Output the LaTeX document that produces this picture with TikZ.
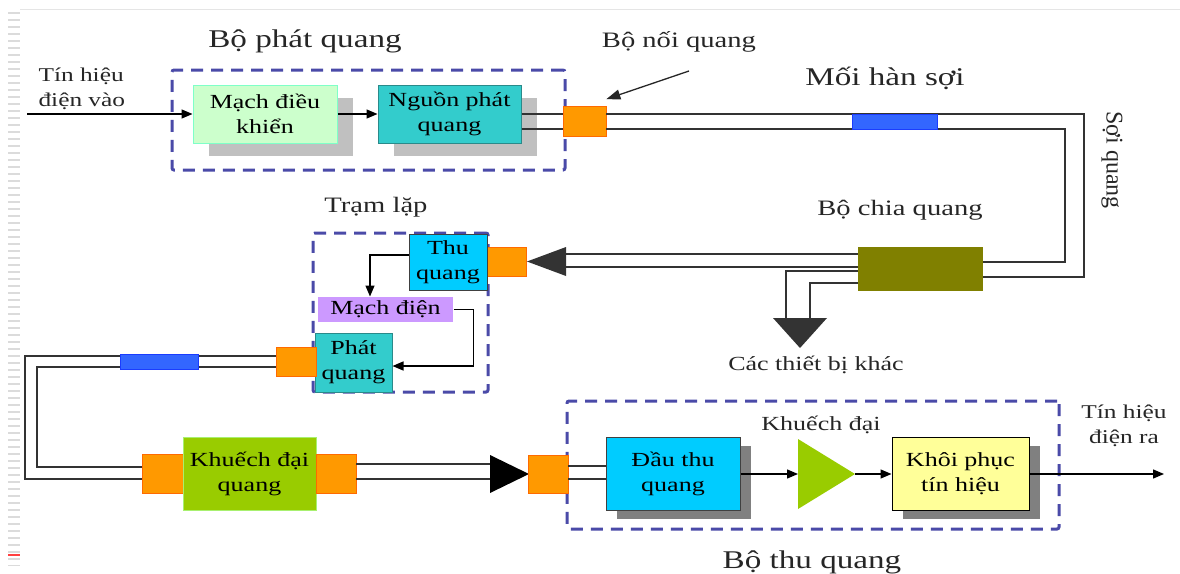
\documentclass[tikz,border=0pt]{standalone}
\usepackage{fontspec}
\setmainfont[FakeStretch=1.3]{Liberation Serif}
\newfontfamily\uprightserif{Liberation Serif}
\usetikzlibrary{arrows.meta,shadows}

\definecolor{dashblue}{HTML}{4A4AA8}
\definecolor{mint}{HTML}{CCFFCC}
\definecolor{mintedge}{HTML}{7FFFC8}
\definecolor{tealfill}{HTML}{33CCCC}
\definecolor{tealedge}{HTML}{2A8A8A}
\definecolor{skyfill}{HTML}{00CCFF}
\definecolor{orangefill}{HTML}{FF9900}
\definecolor{orangeedge}{HTML}{FF6A00}
\definecolor{splicefill}{HTML}{3366FF}
\definecolor{spliceedge}{HTML}{1A3CFF}
\definecolor{splitfill}{HTML}{808000}
\definecolor{lilac}{HTML}{CC99FF}
\definecolor{leaf}{HTML}{99CC00}
\definecolor{leafedge}{HTML}{A8F070}
\definecolor{paleyellow}{HTML}{FFFF99}
\definecolor{fibre}{HTML}{333333}
\definecolor{shadowlight}{HTML}{C0C0C0}
\definecolor{shadowdark}{HTML}{808080}

\begin{document}
\begin{tikzpicture}[x=1pt,y=-1pt,
  blk/.style={rectangle, draw, line width=1pt, inner sep=0pt, align=center,
              font=\fontsize{20}{25}\selectfont},
  conn/.style={rectangle, fill=orangefill, draw=orangeedge, line width=0.8pt, inner sep=0pt},
  splicebox/.style={rectangle, fill=splicefill, draw=spliceedge, line width=0.8pt, inner sep=0pt},
  group/.style={rectangle, draw=dashblue, line width=3pt, dash pattern=on 12pt off 8pt,
                rounded corners=2pt, inner sep=0pt},
  fib/.style={draw=fibre, line width=1.6pt},
  sig/.style={draw=black, line width=1.4pt, -{Triangle[length=11pt,width=9pt]}},
  biglbl/.style={font=\fontsize{25.5}{30}\selectfont, text=black!85},
  midlbl/.style={font=\fontsize{22}{26}\selectfont, text=black!85},
  smalllbl/.style={font=\fontsize{19.5}{25}\selectfont, text=black!85},
  lightshadow/.style={general shadow={fill=shadowlight, shadow xshift=16pt, shadow yshift=-13pt}},
  darkshadow/.style={general shadow={fill=shadowdark, shadow xshift=11pt, shadow yshift=-9pt}}]

\useasboundingbox (0,0) rectangle (1180,573);
\fill[white] (0,0) rectangle (1180,573);

% page edge marks
\draw[black!10, line width=1pt] (20,9) -- (1180,9);
\draw[black!14, line width=12pt, dash pattern=on 2pt off 5pt] (14,12) -- (14,566);
\draw[red!75, line width=2pt] (8,555) -- (20,555);

% dashed groups
\node[group, minimum width=393pt, minimum height=100pt] (txgroup) at (368.5,120) {};
\node[group, minimum width=175pt, minimum height=159pt] (repgroup) at (400.5,312.5) {};
\node[group, minimum width=492pt, minimum height=128pt] (rxgroup) at (813,465) {};

% ---- transmitter ----
\node[biglbl] (txlabel) at (305,41) {Bộ phát quang};
\node[smalllbl, anchor=west, align=left] (vinlabel) at (35,89) {Tín hiệu\\điện vào};
\coordinate (vin) at (27,114);
\node[blk, fill=mint, draw=mintedge, minimum width=144pt, minimum height=58pt, lightshadow] (drive) at (265,114) {Mạch điều\\khiển};
\node[blk, fill=tealfill, draw=tealedge, minimum width=143pt, minimum height=58pt, lightshadow] (source) at (449.5,114) {Nguồn phát\\quang};
\draw[sig] (vin) -- (drive.west);
\draw[sig] (drive.east) -- (source.west);

\node[conn, minimum width=43pt, minimum height=30pt] (c1) at (584.5,121.5) {};
\draw[fib] (source.east |- 0,114) -- (c1.west |- 0,114);
\draw[fib] (source.east |- 0,129) -- (c1.west |- 0,129);

\node[midlbl] (conlabel) at (679,42) {Bộ nối quang};
\coordinate (contail) at (689,71);
\draw[draw=black!85, line width=1.3pt, -{Triangle[length=14pt,width=10pt]}] (contail) -- ([yshift=7pt]c1.north east);

% ---- splitter and fibre run ----
\node[fill=splitfill, minimum width=125pt, minimum height=44pt, inner sep=0pt] (split) at (920.5,269) {};
\draw[fib] (c1.east |- 0,114) -- (1084,114) |- (split.east |- 0,277);
\draw[fib] (c1.east |- 0,129) -- (1065,129) |- (split.east |- 0,262);
\node[splicebox, minimum width=85pt, minimum height=15pt] (splice1) at (894.5,121.5) {};
\node[biglbl] (splicelabel) at (885,78) {Mối hàn sợi};
\node[font=\uprightserif\fontsize{24}{28}\selectfont, text=black!85, rotate=-90] (fibrelabel) at (1112,160) {Sợi quang};
\node[midlbl] (splitlabel) at (900,210) {Bộ chia quang};

% branch to other equipment
\coordinate (devtop) at (800,318);
\fill[fibre] (773,318) -- (827,318) -- (800,348) -- cycle;
\draw[fib] (split.west |- 0,271) -| ([xshift=-14pt]devtop);
\draw[fib] (split.west |- 0,283) -| ([xshift=10pt]devtop);
\node[smalllbl, font=\fontsize{20}{25}\selectfont] (devlabel) at (816,365) {Các thiết bị khác};

% ---- repeater ----
\node[midlbl] (replabel) at (376,207) {Trạm lặp};
\coordinate (inback) at (566,261.5);
\fill[fibre] (527,261.5) -- (566,247) -- (566,276) -- cycle;
\draw[fib] (inback |- 0,254) -- (split.west |- 0,254);
\draw[fib] (inback |- 0,267) -- (split.west |- 0,267);

\node[conn, minimum width=39pt, minimum height=29pt] (c2) at (506.5,261.5) {};
\node[blk, fill=skyfill, draw=black!75, minimum width=78pt, minimum height=56pt] (rxrep) at (448,262) {Thu\\quang};
\node[blk, draw=none, fill=lilac, minimum width=135pt, minimum height=25pt] (circuit) at (385.5,309.5) {Mạch điện};
\node[blk, fill=tealfill, draw=tealedge, minimum width=77pt, minimum height=59pt] (txrep) at (353.5,362.5) {Phát\\quang};
\draw[sig] ([yshift=7pt]rxrep.west) -| ([xshift=-15.5pt]circuit.north);
\draw[sig] (circuit.east) -- ++(20,0) |- ([yshift=-3.5pt]txrep.east);

\node[conn, minimum width=40pt, minimum height=29pt] (c3) at (296,361.5) {};

% ---- loop to the optical amplifier ----
\node[conn, minimum width=41pt, minimum height=39pt] (c4) at (162.5,473.5) {};
\draw[fib] (c3.west |- 0,356) -- (25,356) |- (c4.west |- 0,479);
\draw[fib] (c3.west |- 0,367) -- (37,367) |- (c4.west |- 0,467);
\node[splicebox, minimum width=78pt, minimum height=15pt] (splice2) at (159,361.5) {};

\node[blk, fill=leaf, draw=leafedge, minimum width=133pt, minimum height=73pt] (oamp) at (249.5,473.5) {Khuếch đại\\quang};
\node[conn, minimum width=40pt, minimum height=39pt] (c5) at (336,473.5) {};

\coordinate (outback) at (490,474);
\draw[fib] (c5.east |- 0,464) -- (outback |- 0,464);
\draw[fib] (c5.east |- 0,479) -- (outback |- 0,479);
\fill[black] (490,455) -- (529,474) -- (490,493) -- cycle;
\node[conn, minimum width=40pt, minimum height=38pt] (c6) at (548,474) {};

% ---- receiver ----
\node[blk, fill=skyfill, draw=black!75, minimum width=134pt, minimum height=73pt, darkshadow] (detector) at (673,473.5) {Đầu thu\\quang};
\draw[fib] (c6.east |- 0,466) -- (detector.west |- 0,466);
\draw[fib] (c6.east |- 0,479) -- (detector.west |- 0,479);

\coordinate (ampin) at (798,474);
\coordinate (ampout) at (855,474);
\fill[leaf] (798,439) -- (ampout) -- (798,509) -- cycle;
\node[smalllbl, font=\fontsize{20}{25}\selectfont] (amplabel) at (821,425) {Khuếch đại};

\node[blk, fill=paleyellow, draw=black, minimum width=137pt, minimum height=73pt, darkshadow] (regen) at (960.5,473.5) {Khôi phục\\tín hiệu};
\coordinate (vout) at (1164,474);
\draw[sig] (detector.east |- 0,474) -- (ampin);
\draw[sig] (ampout) -- (regen.west |- 0,474);
\draw[sig] (regen.east |- 0,474) -- (vout);

\node[smalllbl, align=center] (voutlabel) at (1124,426) {Tín hiệu\\điện ra};
\node[biglbl] (rxlabel) at (812,562) {Bộ thu quang};
\end{tikzpicture}
\end{document}
